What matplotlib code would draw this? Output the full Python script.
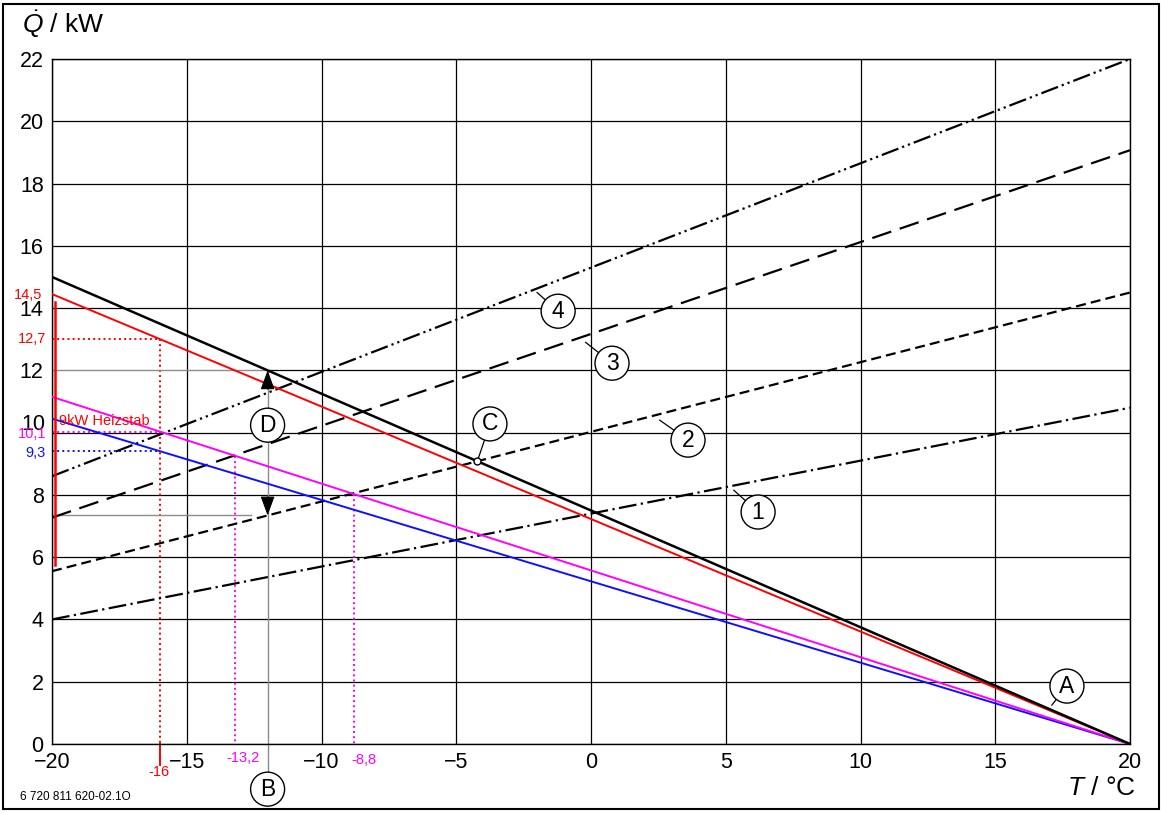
import matplotlib.pyplot as plt
import numpy as np
from matplotlib.patches import Rectangle

plt.rcParams['font.family'] = ['Liberation Sans', 'DejaVu Sans']
plt.rcParams['mathtext.fontset'] = 'custom'
plt.rcParams['mathtext.it'] = 'Liberation Sans:italic'
plt.rcParams['mathtext.rm'] = 'Liberation Sans'

# ==========================================
# DATA
# ==========================================

t_ends = [-20, 20]

# heat demand lines (value at -20 °C, value at 20 °C)
q_black = [15.0, 0.0]
q_red = [14.45, 0.0]
q_magenta = [11.15, 0.0]
q_blue = [10.45, 0.0]

# heat pump curves 1..4
q_hp1 = [4.0, 10.8]
q_hp2 = [5.55, 14.5]
q_hp3 = [7.27, 19.07]
q_hp4 = [8.6, 22.0]

x_ticks = [-20, -15, -10, -5, 0, 5, 10, 15, 20]
x_ticklabels = ["\u221220", "\u221215", "\u221210", "\u22125", "0", "5", "10", "15", "20"]
y_ticks = [0, 2, 4, 6, 8, 10, 12, 14, 16, 18, 20, 22]

t_biv = -16
t_mag = [-13.2, -8.8]
t_mag_labels = ["-13,2", "-8,8"]
t_d = -12
heizstab = [5.75, 14.2]

RED = "#ff0000"
MAG = "#ff00ff"
BLUE = "#1010ff"
GREY = "#8c8c8c"


def at(line, t):
    return np.interp(t, t_ends, line)


# ==========================================
# FIGURE
# ==========================================

fig = plt.figure(figsize=(11.61, 8.13), dpi=100)
ax = fig.add_axes([52 / 1161, 69 / 813, 1078 / 1161, 685 / 813])

ax.set_xlim(-20, 20)
ax.set_ylim(0, 22)
ax.set_xticks(x_ticks)
ax.set_xticklabels(x_ticklabels)
ax.set_yticks(y_ticks)
# "10" is drawn separately, a bit higher, to make room for "10,1"
ax.set_yticklabels(["" if v == 10 else str(v) for v in y_ticks])
ax.annotate("10", xy=(0, 10), xycoords=("axes fraction", "data"),
            xytext=(-5, 6), textcoords="offset points", ha="right",
            va="center", fontsize=15.5)
ax.tick_params(length=0, labelsize=15.5, pad=6)
for s in ax.spines.values():
    s.set_linewidth(1.0)

# grid (y=12 left part is grey instead)
for xv in x_ticks:
    ax.axvline(xv, color="black", lw=0.9, zorder=1)
for yv in y_ticks:
    if yv == 12:
        ax.axhline(yv, xmin=(t_d + 20) / 40, color="black", lw=0.9, zorder=1)
    else:
        ax.axhline(yv, color="black", lw=0.9, zorder=1)

# heat pump curves
ax.plot(t_ends, q_hp1, color="black", lw=1.6, ls=(0, (8, 2, 1, 2)), zorder=3)
ax.plot(t_ends, q_hp2, color="black", lw=1.6, ls=(0, (4.5, 2.3)), zorder=3)
ax.plot(t_ends, q_hp3, color="black", lw=1.6, ls=(0, (9, 4)), zorder=3)
ax.plot(t_ends, q_hp4, color="black", lw=1.6,
        ls=(0, (8, 1.8, 1, 1.8, 1, 1.8)), zorder=3)

# heat demand lines
ax.plot(t_ends, q_blue, color=BLUE, lw=1.4, zorder=4)
ax.plot(t_ends, q_magenta, color=MAG, lw=1.4, zorder=4)
ax.plot(t_ends, q_red, color=RED, lw=1.4, zorder=4)
ax.plot(t_ends, q_black, color="black", lw=1.8, zorder=4)

# ==========================================
# MARKINGS
# ==========================================

# bivalent point -16
y_r = at(q_red, t_biv)
y_m = at(q_magenta, t_biv)
y_b = at(q_blue, t_biv)
ax.plot([-20, t_biv], [y_r, y_r], color=RED, lw=1.4, ls=":", zorder=2)
ax.plot([t_biv, t_biv], [y_r, 0], color=RED, lw=1.4, ls=":", zorder=2)
ax.plot([t_biv, t_biv], [0, -0.68], color=RED, lw=1.4, clip_on=False)
ax.plot([-20, t_biv], [y_m, y_m], color=MAG, lw=1.4, ls=":", zorder=2)
ax.plot([-20, t_biv], [y_b, y_b], color=BLUE, lw=1.4, ls=":", zorder=2)

for tm in t_mag:
    ax.plot([tm, tm], [at(q_magenta, tm), 0], color=MAG, lw=1.4, ls=":", zorder=2)

# heating rod bar
ax.plot([-19.9, -19.9], heizstab, color=RED, lw=1.8, zorder=5)
ax.text(-19.75, 10.38, "9kW Heizstab", color=RED, fontsize=10.5,
        ha="left", va="center", zorder=6)

# value labels
ax.text(-20.35, 14.42, "14,5", color=RED, fontsize=10.5, ha="right",
        va="center", clip_on=False)
ax.text(-20.22, y_r, "12,7", color=RED, fontsize=10.5, ha="right",
        va="center", clip_on=False)
ax.text(-20.22, y_m - 0.07, "10,1", color=MAG, fontsize=10.5, ha="right",
        va="center", clip_on=False)
ax.text(-20.22, y_b - 0.07, "9,3", color=BLUE, fontsize=10.5, ha="right",
        va="center", clip_on=False)
ax.text(t_biv - 0.05, -0.9, "-16", color=RED, fontsize=10.5, ha="center",
        va="center", clip_on=False)
ax.text(t_mag[0] + 0.3, -0.45, t_mag_labels[0], color=MAG, fontsize=10.5,
        ha="center", va="center", clip_on=False)
ax.text(t_mag[1] + 0.38, -0.5, t_mag_labels[1], color=MAG, fontsize=10.5,
        ha="center", va="center", clip_on=False)

# D arrows and B
y_top = at(q_black, t_d)
y_bot = at(q_hp2, t_d)
ax.plot([-20, t_d], [y_top, y_top], color=GREY, lw=1.0, zorder=2)
ax.plot([-20, t_d - 0.6], [y_bot, y_bot], color=GREY, lw=1.0, zorder=2)
ax.plot([t_d, t_d], [y_top, -1.0], color=GREY, lw=1.0, zorder=2, clip_on=False)
for y0, y1 in [(y_top - 0.6, y_top), (y_bot + 0.6, y_bot)]:
    ax.annotate("", xy=(t_d, y1), xytext=(t_d, y0), zorder=6,
                arrowprops=dict(arrowstyle="-|>,head_length=0.6,head_width=0.22",
                                color="black", lw=0.8, shrinkA=0, shrinkB=0,
                                mutation_scale=20))

# point C
t_c = (q_hp2[0] - q_black[0]) / (
    (q_black[1] - q_black[0]) / 40 - (q_hp2[1] - q_hp2[0]) / 40) - 20
y_c = at(q_black, t_c)

circ = dict(boxstyle="circle,pad=0.24", fc="white", ec="black", lw=1.0)

labels = [
    ("1", (6.2, 7.45), (5.3, 8.15)),
    ("2", (3.6, 9.76), (2.55, 10.4)),
    ("3", (0.78, 12.23), (-0.2, 12.9)),
    ("4", (-1.22, 13.9), (-2.0, 14.5)),
    ("A", (17.66, 1.86), (17.1, 1.25)),
    ("C", (-3.75, 10.28), (t_c, y_c)),
    ("D", (t_d, 10.24), None),
    ("B", (t_d, -1.45), None),
]
for txt, pos, tip in labels:
    if tip is not None:
        ax.plot([pos[0], tip[0]], [pos[1], tip[1]], color="black", lw=0.9,
                zorder=6)
    ax.text(pos[0], pos[1], txt, fontsize=16.5, ha="center", va="center",
            bbox=circ, zorder=7, clip_on=False)

ax.plot([t_c], [y_c], marker="o", ms=5, mfc="white", mec="black", mew=1.0,
        zorder=8)

# ==========================================
# AXIS TITLES + FRAME
# ==========================================

fig.text(22 / 1161, 1 - 24 / 813, r"$\dot{Q}$ / kW", fontsize=19,
         ha="left", va="center")
fig.text(1136 / 1161, 1 - 788 / 813, r"$T$ / °C", fontsize=19,
         ha="right", va="center")
fig.text(20 / 1161, 1 - 797 / 813, "6 720 811 620-02.1O", fontsize=8.5,
         ha="left", va="center")

fig.patches.append(Rectangle((3 / 1161, 4 / 813), 1156 / 1161, 805 / 813,
                             transform=fig.transFigure, fill=False,
                             ec="black", lw=1.5))

plt.savefig("out.png", dpi=100)
plt.close()
